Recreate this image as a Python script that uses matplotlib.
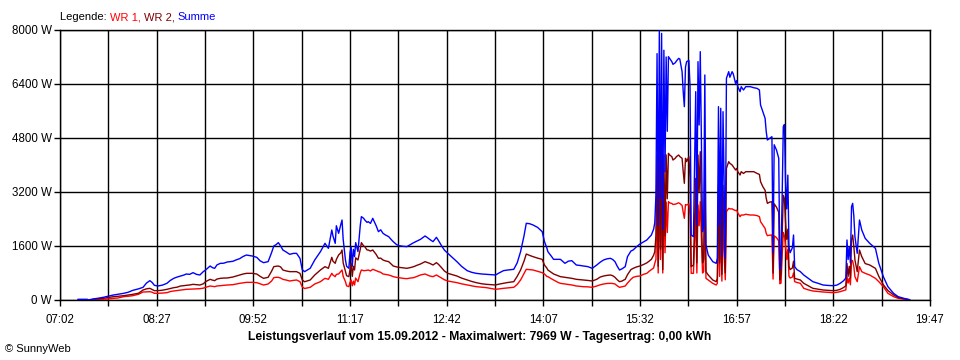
import numpy as np
import matplotlib
matplotlib.use("Agg")
import matplotlib.pyplot as plt
from matplotlib.ticker import FixedLocator, NullFormatter

plt.rcParams['font.family'] = ['Liberation Sans', 'DejaVu Sans']

### readings taken off the SunnyWeb chart (time, WR 1, WR 2, Summe in W)
times = [
    "07:18", "07:26", "07:27", "07:31", "07:35", "07:40", "07:44", "07:49", "07:53", "07:58",
    "08:02", "08:06", "08:11", "08:15", "08:18", "08:21", "08:23", "08:25", "08:28", "08:32",
    "08:36", "08:39", "08:42", "08:45", "08:48", "08:51", "08:53", "08:56", "08:59", "09:02",
    "09:05", "09:08", "09:10", "09:14", "09:16", "09:18", "09:20", "09:23", "09:26", "09:29",
    "09:34", "09:37", "09:40", "09:43", "09:46", "09:48", "09:51", "09:55", "09:58", "10:01",
    "10:05", "10:08", "10:10", "10:12", "10:14", "10:16", "10:18", "10:21", "10:24", "10:27",
    "10:30", "10:33", "10:35", "10:37", "10:42", "10:46", "10:51", "10:55", "10:58", "11:01",
    "11:02", "11:04", "11:05", "11:07", "11:09", "11:10", "11:11", "11:13", "11:14", "11:16",
    "11:17", "11:18", "11:19", "11:20", "11:21", "11:22", "11:24", "11:26", "11:27", "11:29",
    "11:30", "11:32", "11:33", "11:35", "11:37", "11:40", "11:42", "11:44", "11:46", "11:48",
    "11:51", "11:53", "11:55", "11:58", "12:00", "12:04", "12:07", "12:10", "12:13", "12:16",
    "12:19", "12:23", "12:25", "12:27", "12:30", "12:33", "12:35", "12:38", "12:40", "12:43",
    "12:47", "12:51", "12:55", "13:00", "13:04", "13:08", "13:13", "13:17", "13:21", "13:25",
    "13:28", "13:32", "13:36", "13:41", "13:44", "13:47", "13:50", "13:52", "13:55", "13:58",
    "14:02", "14:06", "14:08", "14:10", "14:11", "14:14", "14:16", "14:20", "14:22", "14:26",
    "14:29", "14:32", "14:36", "14:40", "14:42", "14:46", "14:50", "14:54", "14:57", "15:00",
    "15:03", "15:06", "15:08", "15:10", "15:12", "15:14", "15:16", "15:19", "15:21", "15:24",
    "15:26", "15:29", "15:32", "15:35", "15:38", "15:40", "15:42", "15:44", "15:45", "15:46",
    "15:47", "15:48", "15:49", "15:50", "15:51", "15:52", "15:53", "15:54", "15:55", "15:56",
    "15:57", "15:58", "16:00", "16:01", "16:03", "16:04", "16:06", "16:07", "16:09", "16:10",
    "16:11", "16:12", "16:13", "16:15", "16:16", "16:17", "16:19", "16:21", "16:22", "16:23",
    "16:24", "16:25", "16:26", "16:27", "16:28", "16:29", "16:30", "16:32", "16:36", "16:39",
    "16:40", "16:41", "16:42", "16:43", "16:44", "16:45", "16:46", "16:47", "16:48", "16:50",
    "16:51", "16:53", "16:54", "16:56", "16:57", "16:58", "17:00", "17:01", "17:03", "17:05",
    "17:09", "17:12", "17:15", "17:17", "17:18", "17:20", "17:22", "17:23", "17:24", "17:26",
    "17:28", "17:29", "17:30", "17:32", "17:34", "17:35", "17:36", "17:37", "17:38", "17:39",
    "17:40", "17:41", "17:42", "17:43", "17:44", "17:46", "17:47", "17:48", "17:50", "17:53",
    "17:56", "18:00", "18:04", "18:09", "18:13", "18:18", "18:22", "18:25", "18:28", "18:31",
    "18:33", "18:34", "18:35", "18:36", "18:37", "18:38", "18:39", "18:40", "18:41", "18:43",
    "18:45", "18:47", "18:50", "18:54", "18:59", "19:02", "19:06", "19:10", "19:15", "19:19",
    "19:24", "19:29",
]

wr1 = [
    5, 5, 0, 10, 15, 20, 30, 49, 60, 99,
    110, 128, 170, 237, 240, 247, 230, 198, 198, 205,
    217, 250, 267, 280, 296, 305, 316, 320, 326, 330,
    336, 350, 375, 415, 405, 395, 415, 425, 435, 444,
    454, 475, 494, 510, 523, 523, 523, 514, 480, 444,
    474, 560, 662, 672, 672, 650, 612, 590, 563, 580,
    593, 543, 390, 340, 376, 474, 543, 642, 613, 790,
    740, 692, 760, 771, 850, 889, 700, 543, 420, 395,
    520, 593, 420, 560, 445, 650, 543, 800, 889, 870,
    870, 880, 889, 860, 909, 870, 840, 820, 771, 760,
    741, 720, 692, 670, 662, 640, 632, 650, 662, 700,
    741, 771, 740, 712, 692, 741, 700, 642, 600, 563,
    540, 514, 480, 445, 420, 395, 380, 366, 340, 316,
    330, 346, 360, 376, 460, 593, 780, 909, 900, 889,
    850, 810, 771, 700, 692, 630, 593, 520, 494, 474,
    460, 445, 415, 400, 395, 390, 376, 415, 450, 474,
    490, 494, 490, 474, 420, 376, 390, 415, 500, 613,
    672, 700, 711, 760, 790, 850, 900, 950, 1087, 1200,
    2950, 800, 3200, 1200, 3200, 800, 3000, 1400, 2900, 2000,
    2913, 2880, 2860, 2830, 2840, 2850, 2880, 2860, 2800, 2600,
    2420, 2830, 2814, 2850, 2500, 790, 790, 2617, 800, 2815,
    2200, 2913, 1800, 800, 850, 2680, 642, 592, 493, 444,
    493, 2321, 700, 2222, 560, 2400, 1300, 600, 2617, 2716,
    2700, 2700, 2680, 2650, 2660, 2580, 2469, 2518, 2518, 2540,
    2518, 2518, 2500, 2469, 2321, 2222, 2120, 1975, 1906, 1920,
    1926, 620, 1900, 1850, 1750, 480, 500, 1300, 2000, 1900,
    1600, 1200, 1500, 700, 650, 680, 800, 543, 520, 494,
    346, 300, 267, 250, 237, 227, 217, 227, 247, 280,
    300, 691, 500, 650, 450, 1185, 1150, 1000, 691, 543,
    988, 839, 790, 740, 642, 543, 395, 197, 99, 49,
    25, 5,
]

wr2 = [
    10, 10, 0, 15, 30, 49, 70, 99, 110, 128,
    148, 168, 200, 296, 330, 346, 310, 277, 277, 290,
    316, 340, 365, 380, 415, 425, 435, 445, 464, 454,
    444, 480, 543, 612, 590, 573, 620, 642, 650, 652,
    681, 710, 741, 770, 790, 790, 790, 770, 700, 642,
    672, 850, 988, 1000, 1007, 980, 889, 860, 840, 840,
    840, 790, 600, 540, 593, 741, 889, 988, 939, 1265,
    1150, 1087, 1200, 1334, 1400, 1482, 1100, 840, 720, 692,
    900, 1087, 700, 1000, 889, 1250, 1186, 1500, 1699, 1600,
    1580, 1482, 1482, 1450, 1482, 1350, 1235, 1240, 1186, 1160,
    1136, 1070, 1008, 980, 968, 950, 939, 960, 988, 1030,
    1067, 1136, 1110, 1087, 1037, 1107, 1050, 939, 860, 790,
    750, 711, 650, 593, 550, 514, 480, 464, 455, 445,
    470, 494, 520, 543, 700, 889, 1150, 1363, 1320, 1284,
    1240, 1205, 1037, 950, 889, 820, 771, 720, 692, 672,
    660, 642, 613, 600, 593, 580, 563, 613, 680, 711,
    730, 741, 720, 672, 600, 543, 560, 613, 750, 900,
    938, 980, 1008, 1050, 1100, 1150, 1205, 1330, 1432, 1900,
    4300, 1000, 4700, 1500, 4600, 900, 4300, 1900, 4300, 3000,
    4345, 4300, 4247, 4148, 4200, 4247, 4296, 4250, 4199, 3802,
    3457, 4199, 4099, 4247, 3600, 987, 1037, 3605, 1100, 4296,
    3200, 4395, 2600, 1100, 1200, 4000, 839, 741, 592, 543,
    642, 3407, 1100, 3210, 760, 3400, 1800, 800, 3901, 4099,
    4050, 4000, 3950, 3852, 3900, 3802, 3703, 3802, 3750, 3802,
    3802, 3802, 3750, 3720, 3506, 3358, 3250, 3012, 2864, 2900,
    2913, 800, 2850, 2750, 2600, 600, 790, 1900, 3100, 3000,
    2300, 1800, 2100, 1000, 900, 950, 1150, 640, 620, 593,
    494, 420, 346, 320, 296, 286, 276, 286, 316, 370,
    420, 1086, 700, 1000, 650, 1778, 1926, 1600, 1185, 839,
    1481, 1284, 1080, 1037, 938, 700, 450, 280, 150, 75,
    35, 8,
]

summe = [
    20, 20, 0, 30, 50, 79, 110, 148, 170, 198,
    230, 286, 330, 375, 500, 573, 520, 435, 415, 440,
    494, 580, 642, 680, 711, 740, 770, 760, 810, 760,
    741, 840, 889, 1007, 960, 938, 1040, 1086, 1090, 1126,
    1146, 1190, 1225, 1290, 1333, 1320, 1304, 1264, 1160, 1106,
    1136, 1400, 1600, 1640, 1699, 1600, 1481, 1420, 1353, 1380,
    1383, 1235, 900, 840, 939, 1186, 1432, 1679, 1531, 2074,
    1900, 1679, 2200, 1976, 2250, 2371, 1800, 1186, 1000, 939,
    1400, 1581, 1000, 1500, 1284, 1700, 1432, 2200, 2470, 2420,
    2371, 2300, 2321, 2270, 2420, 2200, 2025, 2080, 1976, 1930,
    1877, 1800, 1729, 1640, 1610, 1590, 1581, 1640, 1699, 1750,
    1798, 1897, 1850, 1798, 1729, 1857, 1750, 1581, 1480, 1383,
    1260, 1136, 1000, 870, 820, 790, 770, 760, 750, 741,
    800, 870, 890, 909, 1100, 1432, 1900, 2272, 2260, 2222,
    2150, 2025, 1729, 1550, 1432, 1300, 1205, 1205, 1205, 1087,
    1150, 1166, 1037, 1020, 1008, 990, 939, 1037, 1120, 1186,
    1220, 1235, 1200, 1136, 1000, 889, 920, 988, 1284, 1450,
    1482, 1580, 1660, 1720, 1778, 1850, 1926, 2100, 2292, 3100,
    7300, 2200, 7980, 3000, 7900, 2100, 7400, 3800, 7200, 5000,
    7210, 7160, 7062, 6982, 7030, 7081, 7160, 7140, 6765, 6173,
    5728, 6900, 7062, 7100, 6321, 1926, 1876, 6173, 2222, 7062,
    5185, 7358, 4592, 2025, 2222, 6667, 1630, 1333, 1136, 1086,
    1234, 5728, 2222, 5679, 1300, 5580, 3407, 1234, 6568, 6765,
    6600, 6765, 6700, 6420, 6500, 6321, 6173, 6321, 6222, 6321,
    6321, 6290, 6270, 6222, 5778, 5580, 5383, 4988, 4740, 4790,
    4839, 1400, 4600, 4444, 4200, 900, 1300, 3061, 5135, 5200,
    3500, 2700, 3700, 1580, 1400, 1550, 1926, 988, 900, 840,
    740, 640, 543, 490, 444, 430, 424, 440, 494, 570,
    650, 1778, 1200, 1580, 1100, 2765, 2864, 2500, 1876, 1383,
    2370, 2074, 1827, 1679, 1531, 1086, 691, 395, 197, 99,
    49, 10,
]

tick_labels = ["07:02", "08:27", "09:52", "11:17", "12:42",
               "14:07", "15:32", "16:57", "18:22", "19:47"]
y_ticks = [0, 1600, 3200, 4800, 6400, 8000]

def to_min(s):
    h, m = s.split(":")
    return int(h) * 60 + int(m)

t = np.array([to_min(s) for s in times])
major = np.array([to_min(s) for s in tick_labels])
minor = major[:-1] + 42.5

fig = plt.figure(figsize=(9.6, 3.6), dpi=100)
ax = fig.add_axes([60 / 960, 60 / 360, 870 / 960, 270 / 360])

ax.plot(t, wr1, color="#ff0000", lw=1.0, zorder=3)
ax.plot(t, wr2, color="#800000", lw=1.0, zorder=4)
ax.plot(t, summe, color="#0000ff", lw=1.0, zorder=5)

ax.set_xlim(major[0], major[-1])
ax.set_ylim(0, 8000)
ax.xaxis.set_major_locator(FixedLocator(major))
ax.xaxis.set_minor_locator(FixedLocator(minor))
ax.xaxis.set_minor_formatter(NullFormatter())
ax.set_xticklabels(tick_labels)
ax.set_yticks(y_ticks)
ax.set_yticklabels([f"{v} W" for v in y_ticks])

ax.grid(True, which="both", color="black", lw=1.0)
ax.set_axisbelow(True)
for sp in ax.spines.values():
    sp.set_color("black")
    sp.set_linewidth(1.0)
ax.tick_params(which="both", length=4, width=1.0, color="black", labelsize=8.3)
ax.tick_params(axis="x", pad=6)
ax.tick_params(axis="y", pad=2)

### legend line at the top, coloured pieces chained one after the other
t0 = fig.text(60 / 960, 1 - 22 / 360, "Legende: ", fontsize=8, va="bottom")
t1 = ax.annotate("WR 1, ", xy=(1, 0), xycoords=t0, va="bottom", fontsize=8, color="#ff0000")
t2 = ax.annotate("WR 2, ", xy=(1, 0), xycoords=t1, va="bottom", fontsize=8, color="#800000")
ax.annotate("Summe", xy=(1, 0), xycoords=t2, va="bottom", fontsize=8, color="#0000ff")

fig.text(480 / 960, 1 - 337 / 360,
         "Leistungsverlauf vom 15.09.2012 - Maximalwert: 7969 W - Tagesertrag: 0,00 kWh",
         fontsize=8.7, fontweight="bold", ha="center", va="center")
fig.text(5 / 960, 1 - 349 / 360, "\u00a9 SunnyWeb", fontsize=8, ha="left", va="center")

fig.savefig("out.png", dpi=100)
